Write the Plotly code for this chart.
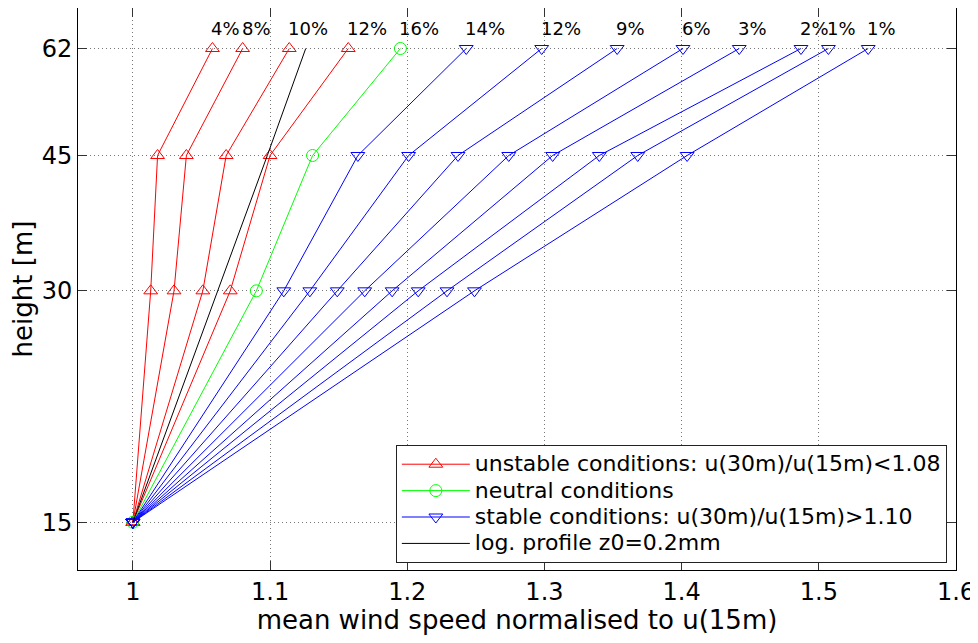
import math
import plotly.graph_objects as go

heights = [15, 30, 45, 62]

unstable_profiles = [
    [1.0, 1.013, 1.018, 1.058],
    [1.0, 1.030, 1.039, 1.080],
    [1.0, 1.051, 1.068, 1.114],
    [1.0, 1.071, 1.100, 1.157],
]
unstable_labels = ["4%", "8%", "10%", "12%"]

neutral_profiles = [
    [1.0, 1.090, 1.131, 1.195],
]
neutral_labels = ["16%"]

stable_profiles = [
    [1.0, 1.110, 1.164, 1.243],
    [1.0, 1.129, 1.201, 1.298],
    [1.0, 1.149, 1.237, 1.353],
    [1.0, 1.169, 1.274, 1.401],
    [1.0, 1.189, 1.306, 1.442],
    [1.0, 1.208, 1.340, 1.487],
    [1.0, 1.229, 1.368, 1.507],
    [1.0, 1.249, 1.404, 1.536],
]
stable_labels = ["14%", "12%", "9%", "6%", "3%", "2%", "1%", "1%"]

log_profile = [1.0, 1.062, 1.098, 1.126]

x_ticks = [1.0, 1.1, 1.2, 1.3, 1.4, 1.5, 1.6]
x_ticktext = ["1", "1.1", "1.2", "1.3", "1.4", "1.5", "1.6"]

FONT = "DejaVu Sans, Liberation Sans, Arial, sans-serif"
LEGEND_TEXT_PX = 22


def legend_name(text):
    return '<span style="font-size:%dpx">%s</span>' % (LEGEND_TEXT_PX, text)


fig = go.Figure()

groups = [
    (unstable_profiles, unstable_labels, "#ff0000", "triangle-up-open",
     "unstable conditions: u(30m)/u(15m)<1.08", 12),
    (neutral_profiles, neutral_labels, "#00ff00", "circle-open",
     "neutral conditions", 12),
    (stable_profiles, stable_labels, "#0000ff", "triangle-down-open",
     "stable conditions: u(30m)/u(15m)>1.10", 12),
]

annotations = []
for profiles, labels, color, symbol, name, msize in groups:
    for i, prof in enumerate(profiles):
        fig.add_trace(go.Scatter(
            x=prof, y=heights, mode="lines+markers",
            line=dict(color=color, width=1),
            marker=dict(symbol=symbol, size=msize, color=color,
                        line=dict(color=color, width=1)),
            name=legend_name(name), legendgroup=name, showlegend=(i == 0),
        ))
        annotations.append(dict(
            x=prof[-1], y=math.log10(heights[-1]), xref="x", yref="y",
            text=labels[i], showarrow=False, xanchor="left", yanchor="middle",
            yshift=20, xshift=-3,
            font=dict(family=FONT, size=18, color="black"),
        ))

fig.add_trace(go.Scatter(
    x=log_profile, y=heights, mode="lines",
    line=dict(color="black", width=1),
    name=legend_name("log. profile z0=0.2mm"),
))

fig.update_layout(
    width=970, height=627,
    margin=dict(l=70, r=22, t=0, b=65),
    paper_bgcolor="white", plot_bgcolor="white",
    font=dict(family=FONT, size=24, color="black"),
    annotations=annotations,
    showlegend=True,
    legend=dict(
        x=0.362, y=0.2224, xanchor="left", yanchor="top",
        bgcolor="white", bordercolor="#222", borderwidth=1,
        font=dict(family=FONT, size=18, color="black"),
        itemwidth=68, tracegroupgap=0,
    ),
)

fig.update_xaxes(
    range=[0.96, 1.6], tickvals=x_ticks, ticktext=x_ticktext,
    ticks="inside", ticklen=9, tickcolor="#333", mirror="ticks",
    showline=True, linecolor="black", linewidth=1,
    showgrid=True, gridcolor="#777", griddash="1px,3px", gridwidth=1,
    zeroline=False,
    title=dict(text="mean wind speed normalised to u(15m)", standoff=3,
               font=dict(size=26)),
    tickfont=dict(size=24),
)
fig.update_yaxes(
    type="log", range=[math.log10(13), math.log10(70)],
    tickvals=heights, ticktext=[str(h) for h in heights],
    ticks="inside", ticklen=9, tickcolor="#333", mirror="ticks",
    showline=True, linecolor="black", linewidth=1,
    showgrid=True, gridcolor="#777", griddash="1px,3px", gridwidth=1,
    zeroline=False,
    title=dict(text="height [m]", standoff=8, font=dict(size=26)),
    tickfont=dict(size=24),
)

fig.write_html("out.html")
